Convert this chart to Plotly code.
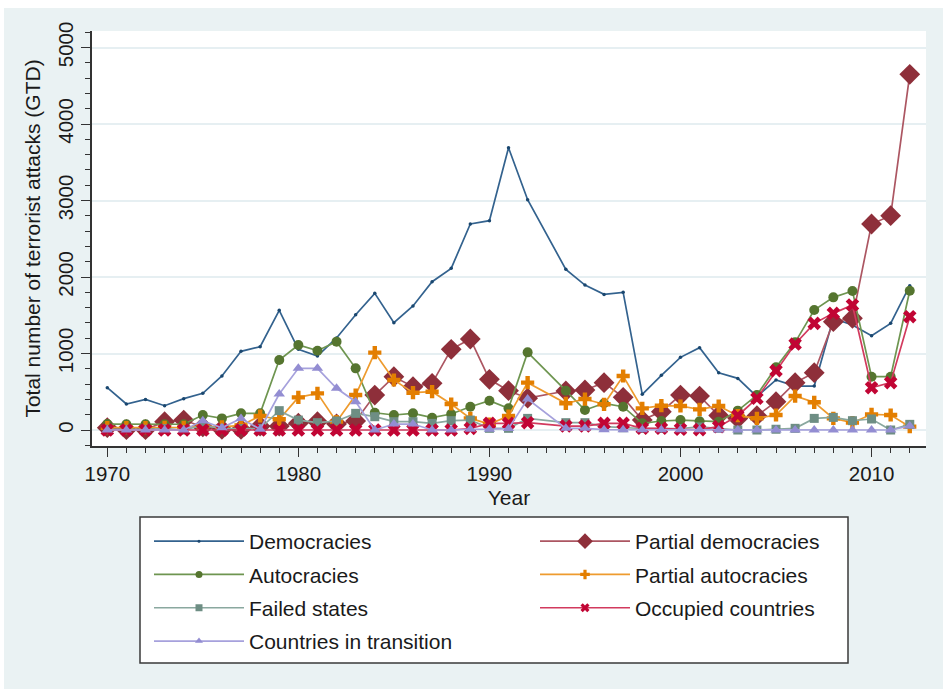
import plotly.graph_objects as go

years = list(range(1970, 1993)) + list(range(1994, 2013))

democracies = [553, 340, 400, 318, 410, 480, 706, 1029, 1089, 1564, 1055, 967, 1203, 1507, 1787,
               1403, 1621, 1939, 2113, 2693, 2736, 3690, 3010,
               2100, 1895, 1773, 1800, 466, 715, 950, 1076, 749, 675, 436, 654, 575, 575,
               1460, 1372, 1233, 1394, 1886]
partial_democracies = [30, 5, 5, 108, 130, 40, 10, 10, 50, 50, 90, 108, 80, 118, 457,
                       697, 566, 610, 1055, 1190, 663, 514, 416,
                       510, 523, 619, 427, 130, 240, 457, 444, 190, 152, 187, 370, 619, 749,
                       1416, 1460, 2693, 2802, 4650]
autocracies = [78, 75, 75, 75, 75, 196, 152, 218, 218, 915, 1111, 1037, 1155, 806, 226,
               196, 218, 161, 209, 305, 383, 283, 1015,
               514, 261, 349, 305, 87, 118, 130, 115, 109, 253, 457, 819, 1146, 1568,
               1734, 1817, 697, 697, 1821]
partial_autocracies = [30, 30, 30, 35, 35, 50, 40, 60, 183, 140, 427, 479, 109, 457, 1011,
                       654, 488, 501, 340, 152, 78, 183, 619,
                       349, 405, 336, 706, 283, 318, 314, 270, 314, 187, 153, 196, 444, 362,
                       152, 96, 205, 196, 44]
failed_states = [10, 10, 10, 20, 0, 60, 20, 20, 20, 253, 130, 96, 118, 218, 174,
                 109, 109, 87, 122, 130, 22, 22, 152,
                 96, 96, 44, 30, 20, 20, 20, 40, 22, 0, 0, 10, 22, 152,
                 165, 122, 144, 0, 74]
occupied = [0, 0, 0, 0, 0, 0, 0, 0, 0, 0, 0, 0, 0, 0, 0,
            0, 0, 0, 0, 20, 87, 87, 96,
            52, 52, 87, 87, 22, 22, 10, 5, 44, 187, 414, 776, 1124, 1394,
            1525, 1634, 553, 619, 1481]
transition = [0, 0, 0, 0, 0, 120, 30, 150, 10, 470, 806, 806, 545, 370, 0,
              78, 78, 0, 0, 10, 10, 20, 405,
              22, 22, 5, 5, 5, 5, 5, 5, 0, 0, 0, 0, 0, 0,
              0, 0, 0, 0, 52]

# name, values, line colour, marker colour, symbol, plot marker size, legend marker size, legend
series = [
    ("Democracies", democracies, "#33628E", "#1A476F", "circle", 3.5, 3, "legend"),
    ("Partial democracies", partial_democracies, "#AC5662", "#8E2F3A", "diamond", 16, 12, "legend2"),
    ("Autocracies", autocracies, "#6E9550", "#55752F", "circle", 10, 7, "legend"),
    ("Partial autocracies", partial_autocracies, "#EE9B2E", "#E37E00", "cross", 11, 8, "legend2"),
    ("Failed states", failed_states, "#8AA89F", "#6E8E84", "square", 9, 7, "legend"),
    ("Occupied countries", occupied, "#D23A5E", "#C10534", "x", 12, 8, "legend2"),
    ("Countries in transition", transition, "#A6A1DC", "#938DD2", "triangle-up", 10, 7, "legend"),
]

fig = go.Figure()
for name, vals, lc, mc, sym, ms, lms, lg in series:
    fig.add_trace(go.Scatter(
        x=years, y=vals, name=name, mode="lines+markers",
        line=dict(color=lc, width=1.7),
        marker=dict(color=mc, symbol=sym, size=ms, line=dict(width=0)),
        showlegend=False, legendgroup=name,
    ))
# legend entries (smaller markers, as in the reference legend)
for name, vals, lc, mc, sym, ms, lms, lg in series:
    fig.add_trace(go.Scatter(
        x=[None], y=[None], name=name, mode="lines+markers",
        line=dict(color=lc, width=1.7),
        marker=dict(color=mc, symbol=sym, size=lms, line=dict(width=0)),
        legend=lg, legendgroup=name, showlegend=True,
    ))

FONT = "Liberation Sans, Arial, Helvetica, sans-serif"
TXT = "#1a1a1a"

def px_x(px):
    return (px - 92) / 834.0

def px_y(py):
    return (446 - py) / 415.0

shapes = [
    dict(type="rect", xref="paper", yref="paper", x0=-0.2, x1=1.1, y0=px_y(8), y1=1.2,
         fillcolor="white", line=dict(width=0), layer="below"),
    dict(type="rect", xref="paper", yref="paper", x0=-0.2, x1=px_x(4), y0=-0.7, y1=1.2,
         fillcolor="white", line=dict(width=0), layer="below"),
    dict(type="rect", xref="paper", yref="paper", x0=px_x(140), x1=px_x(848),
         y0=px_y(663), y1=px_y(517), fillcolor="white",
         line=dict(color="#3a3a3a", width=1.5), layer="above"),
]

fig.update_layout(
    width=943, height=689,
    margin=dict(l=92, r=17, t=31, b=243),
    paper_bgcolor="#EAF2F3",
    plot_bgcolor="white",
    font=dict(family=FONT, color=TXT, size=20),
    shapes=shapes,
    showlegend=True,
    legend=dict(x=px_x(149), y=px_y(521), xanchor="left", yanchor="top",
                bgcolor="rgba(0,0,0,0)", borderwidth=0, font=dict(size=21, family=FONT, color=TXT),
                tracegroupgap=3, itemwidth=90, itemsizing="trace"),
    legend2=dict(x=px_x(535), y=px_y(521), xanchor="left", yanchor="top",
                 bgcolor="rgba(0,0,0,0)", borderwidth=0, font=dict(size=21, family=FONT, color=TXT),
                 tracegroupgap=3, itemwidth=90, itemsizing="trace"),
    xaxis=dict(
        range=[1969.2, 2012.85], tickmode="linear", tick0=1970, dtick=10,
        ticks="outside", ticklen=9, tickwidth=1.3, tickcolor="#333",
        showline=True, linecolor="#333", linewidth=1.5,
        showgrid=False, zeroline=False,
        tickfont=dict(size=20.5, family=FONT, color=TXT),
        title=dict(text="Year", font=dict(size=21, family=FONT, color=TXT), standoff=6),
        minor=dict(dtick=1, tick0=1970, ticks="outside", ticklen=5, tickcolor="#333", tickwidth=1.1, showgrid=False),
    ),
    yaxis=dict(
        range=[-209, 5216], tickmode="linear", tick0=0, dtick=1000,
        ticks="outside", ticklen=9, tickwidth=1.3, tickcolor="#333",
        showline=True, linecolor="#333", linewidth=1.5,
        showgrid=True, gridcolor="#E6EFF2", gridwidth=1.5, zeroline=False,
        tickangle=-90,
        tickfont=dict(size=20.5, family=FONT, color=TXT),
        title=dict(text="Total number of terrorist attacks (GTD)", font=dict(size=21, family=FONT, color=TXT), standoff=8),
        minor=dict(dtick=200, tick0=0, ticks="outside", ticklen=5, tickcolor="#333", tickwidth=1.1, showgrid=False),
    ),
)

fig.write_html("out.html")
